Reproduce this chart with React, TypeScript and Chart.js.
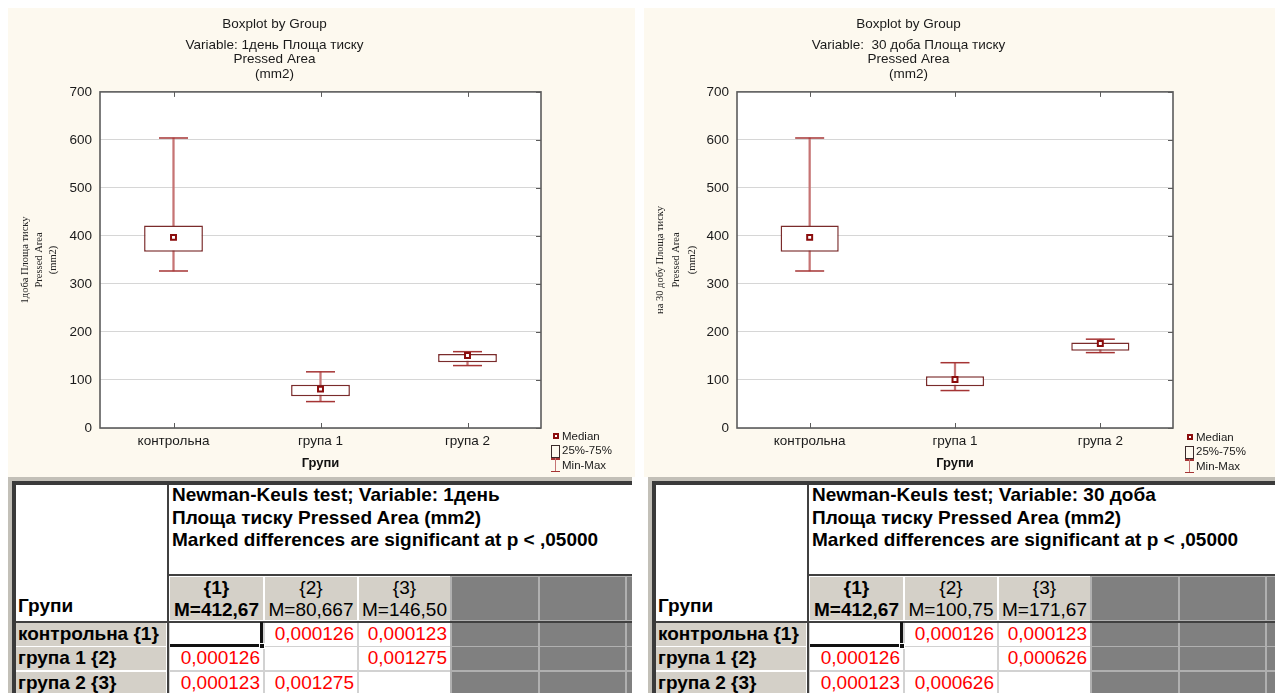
import React, { useEffect, useRef } from "react";
import { Chart, registerables } from "chart.js";
Chart.register(...registerables);

// ---------- data ----------
const categories = ["контрольна", "група 1", "група 2"];
const yMin = 0;
const yMax = 700;
const yStep = 100;

const day1Min = [327, 55, 130];
const day1Q1 = [367, 66, 137];
const day1Median = [397, 81, 151];
const day1Q3 = [422, 90, 154];
const day1Max = [604, 117, 159];

const day30Min = [327, 78, 157];
const day30Q1 = [367, 87, 161];
const day30Median = [397, 101, 176];
const day30Q3 = [422, 108, 178];
const day30Max = [604, 136, 185];

const chartTitle = "Boxplot by Group";
const day1Subtitle = ["Variable: 1день Площа тиску", "Pressed Area", "(mm2)"];
const day30Subtitle = ["Variable:  30 доба Площа тиску", "Pressed Area", "(mm2)"];
const day1YTitle = ["1доба Площа тиску", "Pressed Area", "(mm2)"];
const day30YTitle = ["на 30 добу Площа тиску", "Pressed Area", "(mm2)"];
const xTitle = "Групи";
const legendLabels = ["Median", "25%-75%", "Min-Max"];

const day1TableTitle = [
  "Newman-Keuls test; Variable: 1день",
  "Площа тиску Pressed Area (mm2)",
  "Marked differences are significant at p < ,05000",
];
const day30TableTitle = [
  "Newman-Keuls test; Variable: 30 доба",
  "Площа тиску Pressed Area (mm2)",
  "Marked differences are significant at p < ,05000",
];
const tableCorner = "Групи";
const groupRowLabels = ["контрольна {1}", "група 1 {2}", "група 2 {3}"];
const groupIds = ["{1}", "{2}", "{3}"];
const day1Means = ["M=412,67", "M=80,667", "M=146,50"];
const day30Means = ["M=412,67", "M=100,75", "M=171,67"];
const day1PRows = [
  ["", "0,000126", "0,000123"],
  ["0,000126", "", "0,001275"],
  ["0,000123", "0,001275", ""],
];
const day30PRows = [
  ["", "0,000126", "0,000123"],
  ["0,000126", "", "0,000626"],
  ["0,000123", "0,000626", ""],
];

// ---------- styles ----------
const SANS = "'Liberation Sans', Arial, sans-serif";
const SERIF = "'Liberation Serif', 'Times New Roman', serif";
const CREAM = "#fdf9ef";
const TEXT = "#1a1a1a";
const FS = 13.5;

type BoxProps = {
  left: number;
  top: number;
  width: number;
  height: number;
  areaLeft: number;
  areaRight: number;
  areaBottom: number;
  subtitle: string[];
  yTitle: string[];
  yTitleLH: number;
  yTitlePad: number;
  mins: number[];
  q1s: number[];
  medians: number[];
  q3s: number[];
  maxs: number[];
};

function BoxPlot(p: BoxProps) {
  const ref = useRef<HTMLCanvasElement>(null);
  useEffect(() => {
    const bgPlugin = {
      id: "bgPlugin",
      beforeDraw(chart: any) {
        const c = chart.ctx;
        const a = chart.chartArea;
        c.save();
        c.fillStyle = CREAM;
        c.fillRect(0, 0, chart.width, chart.height);
        c.fillStyle = "#ffffff";
        c.fillRect(a.left, a.top, a.right - a.left, a.bottom - a.top);
        c.restore();
      },
    };
    const framePlugin = {
      id: "framePlugin",
      beforeDatasetsDraw(chart: any) {
        const c = chart.ctx;
        const a = chart.chartArea;
        const xs = chart.scales.x;
        const ys = chart.scales.y;
        c.save();
        c.strokeStyle = "#5c5c5c";
        c.lineWidth = 1.6;
        c.strokeRect(a.left, a.top, a.right - a.left, a.bottom - a.top);
        c.lineWidth = 1;
        c.beginPath();
        xs.ticks.forEach((_t: any, i: number) => {
          const px = Math.round(xs.getPixelForTick(i)) + 0.5;
          c.moveTo(px, a.top);
          c.lineTo(px, a.top + 5);
          c.moveTo(px, a.bottom);
          c.lineTo(px, a.bottom - 5);
        });
        ys.ticks.forEach((_t: any, i: number) => {
          const py = Math.round(ys.getPixelForTick(i)) + 0.5;
          c.moveTo(a.right, py);
          c.lineTo(a.right - 5, py);
        });
        c.stroke();
        c.restore();
      },
    };
    const whisker = categories.map((_, i) => [p.mins[i], p.maxs[i]]);
    const box = categories.map((_, i) => [p.q1s[i], p.q3s[i]]);
    const chart = new Chart(ref.current as HTMLCanvasElement, {
      type: "bar",
      data: {
        labels: categories,
        datasets: [
          {
            type: "line",
            label: "Median",
            data: p.medians,
            showLine: false,
            pointStyle: "rect",
            pointRadius: 3.5,
            pointBorderWidth: 2,
            borderColor: "#8b0d0d",
            pointBorderColor: "#8b0d0d",
            pointBackgroundColor: "#ffffff",
            order: 0,
          } as any,
          {
            type: "line",
            label: "Max",
            data: p.maxs,
            showLine: false,
            pointStyle: "line",
            pointRadius: 14.5,
            pointBorderWidth: 1.5,
            borderColor: "#a53434",
            pointBorderColor: "#a53434",
            order: 1,
          } as any,
          {
            type: "line",
            label: "Min",
            data: p.mins,
            showLine: false,
            pointStyle: "line",
            pointRadius: 14.5,
            pointBorderWidth: 1.5,
            borderColor: "#a53434",
            pointBorderColor: "#a53434",
            order: 1,
          } as any,
          {
            type: "bar",
            label: "25%-75%",
            data: box,
            backgroundColor: "#ffffff",
            borderColor: "#7a2b2b",
            borderWidth: 1.5,
            borderSkipped: false,
            grouped: false,
            barPercentage: 0.4,
            categoryPercentage: 1,
            order: 2,
          } as any,
          {
            type: "bar",
            label: "Min-Max",
            data: whisker,
            backgroundColor: "#c67474",
            borderWidth: 0,
            barThickness: 1.6,
            grouped: false,
            order: 3,
          } as any,
        ],
      },
      options: {
        animation: false,
        responsive: false,
        maintainAspectRatio: false,
        events: [],
        layout: { padding: { left: 0, right: p.width - p.areaRight, top: 0, bottom: 0 } },
        plugins: {
          legend: { display: false },
          tooltip: { enabled: false },
          title: {
            display: true,
            text: chartTitle,
            color: TEXT,
            font: { family: SANS, size: FS, weight: "normal", lineHeight: 1.2 },
            padding: { top: 8, bottom: 2 },
          },
          subtitle: {
            display: true,
            text: p.subtitle,
            color: TEXT,
            font: { family: SANS, size: FS, weight: "normal", lineHeight: 14.5 / FS },
            padding: { top: 3.5, bottom: 10.7 },
          },
        },
        scales: {
          x: {
            grid: { display: false, drawTicks: false },
            border: { display: false },
            ticks: { color: TEXT, font: { family: SANS, size: FS, lineHeight: 1.2 }, padding: 4.9 },
            title: {
              display: true,
              text: xTitle,
              color: "#111",
              font: { family: SANS, size: 13, weight: "bold", lineHeight: 1.2 },
              padding: { top: 0, bottom: 6.2 },
            },
            afterFit: (s: any) => {
              s.height = p.height - p.areaBottom;
            },
          },
          y: {
            min: yMin,
            max: yMax,
            ticks: { stepSize: yStep, color: TEXT, font: { family: SANS, size: FS }, padding: 8 },
            grid: { color: "#d6d6d6", drawTicks: false, lineWidth: 1 },
            border: { display: false },
            title: {
              display: true,
              text: p.yTitle,
              color: "#222",
              font: { family: SERIF, size: 10.5, lineHeight: p.yTitleLH / 10.5 },
              padding: { top: p.yTitlePad, bottom: 0 },
            },
            afterFit: (s: any) => {
              s.width = p.areaLeft;
            },
          },
        } as any,
      } as any,
      plugins: [bgPlugin, framePlugin],
    });
    return () => chart.destroy();
  }, []);
  return (
    <canvas
      ref={ref}
      width={p.width}
      height={p.height}
      style={{ position: "absolute", left: p.left, top: p.top, width: p.width, height: p.height, display: "block" }}
    />
  );
}

function Legend({ x, y }: { x: number; y: number }) {
  const rowGap = 14.5;
  const textStyle: React.CSSProperties = {
    position: "absolute",
    left: x + 11,
    fontFamily: SANS,
    fontSize: 11.5,
    lineHeight: "13px",
    color: TEXT,
    whiteSpace: "pre",
  };
  return (
    <>
      <div
        style={{
          position: "absolute",
          left: x + 2,
          top: y - 3,
          width: 6,
          height: 6,
          boxSizing: "border-box",
          border: "2px solid #8b0d0d",
          background: "#fff",
        }}
      />
      <div style={{ ...textStyle, top: y - 6.5 }}>{legendLabels[0]}</div>
      <div
        style={{
          position: "absolute",
          left: x,
          top: y + rowGap - 6,
          width: 9,
          height: 13,
          boxSizing: "border-box",
          border: "1px solid #3a2a2a",
        }}
      />
      <div style={{ ...textStyle, top: y + rowGap - 6.5 }}>{legendLabels[1]}</div>
      <div style={{ position: "absolute", left: x, top: y + 2 * rowGap - 7, width: 9, height: 1.5, background: "#a53434" }} />
      <div style={{ position: "absolute", left: x + 4, top: y + 2 * rowGap - 7, width: 1.2, height: 13, background: "#c67474" }} />
      <div style={{ position: "absolute", left: x, top: y + 2 * rowGap + 5.5, width: 9, height: 1.5, background: "#a53434" }} />
      <div style={{ ...textStyle, top: y + 2 * rowGap - 6.5 }}>{legendLabels[2]}</div>
    </>
  );
}

const COL_LEFT = [154, 249, 343, 436, 524, 611];
const COL_W = [93, 92, 91, 86, 85, 85];
const ROW_TOP = [138, 162, 187];
const ROW_H = 22.5;
const TFONT = 19;

function NKTable({
  left,
  width,
  title,
  means,
  pRows,
}: {
  left: number;
  width: number;
  title: string[];
  means: string[];
  pRows: string[][];
}) {
  const abs = (l: number, t: number, w: number | string, h: number | string, bg: string, extra: React.CSSProperties = {}) => ({
    position: "absolute" as const,
    left: l,
    top: t,
    width: w,
    height: h,
    background: bg,
    ...extra,
  });
  const txt: React.CSSProperties = { fontFamily: SANS, fontSize: TFONT, color: "#000", whiteSpace: "pre" };
  return (
    <div style={{ position: "absolute", left, top: 477, width, height: 216, overflow: "hidden", background: "#c3c0b8" }}>
      <div style={{ position: "absolute", left: 4, top: 4, right: 0, bottom: 0, background: "#3a3a3a" }} />
      <div style={{ position: "absolute", left: 8, top: 8, right: 0, bottom: 0, background: "#fff", overflow: "hidden" }}>
        <div style={{ ...txt, position: "absolute", left: 156, top: -1, fontWeight: "bold", lineHeight: "22.5px" }}>
          {title.map((t, i) => (
            <div key={i}>{t}</div>
          ))}
        </div>
        <div style={{ ...txt, position: "absolute", left: 2, top: 110, fontWeight: "bold", lineHeight: "22px" }}>{tableCorner}</div>
        <div style={abs(434, 91, 1000, 200, "#b0b0b0")} />
        <div style={abs(153, 138, 434 - 153, 100, "#d2d2d2")} />
        {COL_LEFT.map((cl, i) => (
          <div
            key={"h" + i}
            style={abs(cl, 92, COL_W[i], 43, i < 3 ? "#d4d0c8" : "#808080", {
              ...txt,
              textAlign: "center",
              lineHeight: "22px",
              fontWeight: i === 0 ? "bold" : "normal",
              overflow: "hidden",
            })}
          >
            {i < 3 ? (
              <>
                <div>{groupIds[i]}</div>
                <div>{means[i]}</div>
              </>
            ) : null}
          </div>
        ))}
        {ROW_TOP.map((rt, r) => (
          <React.Fragment key={"r" + r}>
            <div
              style={abs(0, rt, 150, ROW_H, "#d4d0c8", {
                ...txt,
                fontWeight: "bold",
                lineHeight: ROW_H + "px",
                paddingLeft: 2,
                boxSizing: "border-box",
              })}
            >
              {groupRowLabels[r]}
            </div>
            {COL_LEFT.map((cl, c) => (
              <div
                key={"c" + c}
                style={abs(cl, rt, COL_W[c], ROW_H, c < 3 ? "#ffffff" : "#808080", {
                  ...txt,
                  color: "#ff0000",
                  textAlign: "right",
                  lineHeight: ROW_H + "px",
                  paddingRight: 3,
                  boxSizing: "border-box",
                })}
              >
                {c < 3 ? pRows[r][c] : ""}
              </div>
            ))}
          </React.Fragment>
        ))}
        <div style={abs(151, 0, 2, 400, "#404040")} />
        <div style={abs(151, 89, 2000, 2, "#404040")} />
        <div style={abs(0, 135.5, 2000, 2, "#404040")} />
        <div style={abs(COL_LEFT[0] + COL_W[0] - 3, ROW_TOP[0] - 1, 3, ROW_H + 2, "#111")} />
        <div style={abs(COL_LEFT[0], ROW_TOP[0] + ROW_H - 2, COL_W[0], 3, "#111")} />
        <div
          style={abs(COL_LEFT[0] + COL_W[0] - 4, ROW_TOP[0] + ROW_H - 3, 6, 6, "#111", {
            border: "1px solid #fff",
            boxSizing: "border-box",
          })}
        />
      </div>
    </div>
  );
}

export default function App() {
  return (
    <div
      style={{
        position: "fixed",
        left: 0,
        top: 0,
        width: 1275,
        height: 693,
        overflow: "hidden",
        background: "#ffffff",
      }}
    >
      <BoxPlot
        left={8}
        top={8}
        width={627}
        height={469}
        areaLeft={92}
        areaRight={533}
        areaBottom={420}
        subtitle={day1Subtitle}
        yTitle={day1YTitle}
        yTitleLH={14}
        yTitlePad={10}
        mins={day1Min}
        q1s={day1Q1}
        medians={day1Median}
        q3s={day1Q3}
        maxs={day1Max}
      />
      <BoxPlot
        left={644}
        top={8}
        width={631}
        height={469}
        areaLeft={93}
        areaRight={529}
        areaBottom={420}
        subtitle={day30Subtitle}
        yTitle={day30YTitle}
        yTitleLH={16}
        yTitlePad={8}
        mins={day30Min}
        q1s={day30Q1}
        medians={day30Median}
        q3s={day30Q3}
        maxs={day30Max}
      />
      <Legend x={551} y={436} />
      <Legend x={1185} y={437} />
      <NKTable left={8} width={624} title={day1TableTitle} means={day1Means} pRows={day1PRows} />
      <NKTable left={648} width={627} title={day30TableTitle} means={day30Means} pRows={day30PRows} />
    </div>
  );
}
